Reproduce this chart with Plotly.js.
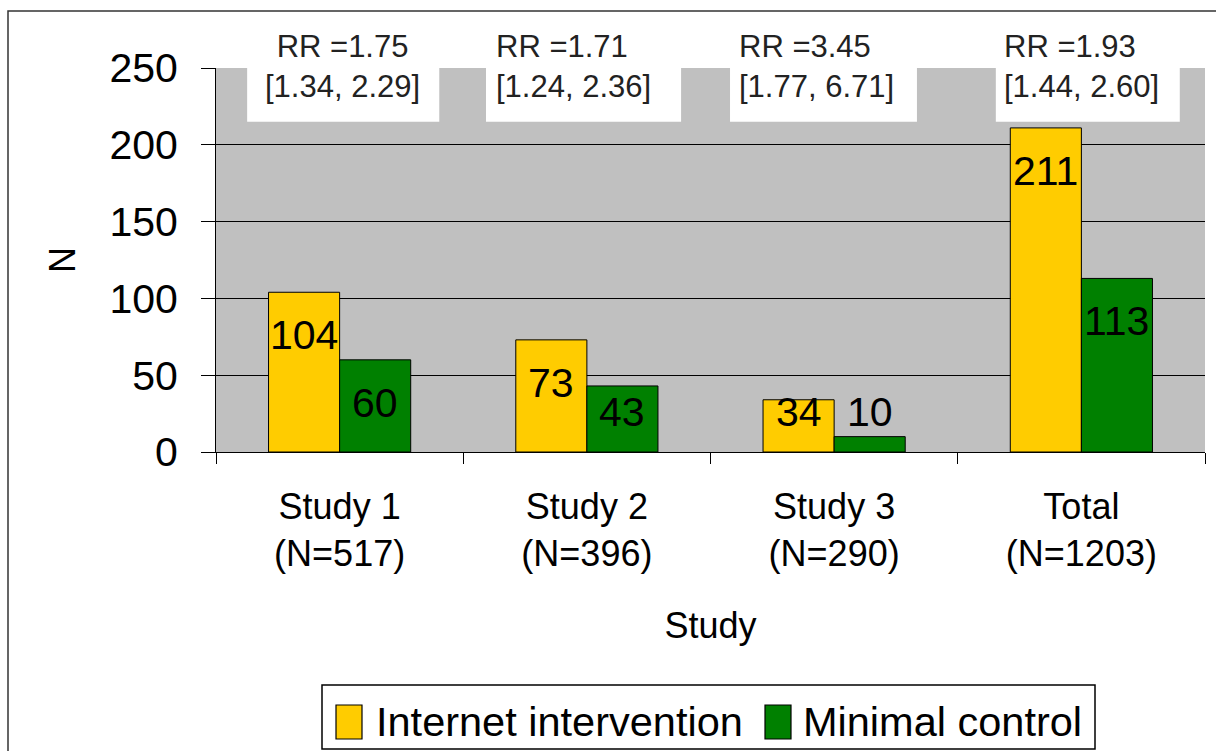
<!DOCTYPE html>
<html>
<head>
<meta charset="utf-8">
<script src="https://cdn.plot.ly/plotly-3.0.1.min.js"></script>
<style>html,body{margin:0;padding:0;background:#fff;}#chart{width:1216px;height:751px;}</style>
</head>
<body>
<div id="chart"></div>
<script>
// ---- data ----
const categories = ["Study 1<br>(N=517)", "Study 2<br>(N=396)", "Study 3<br>(N=290)", "Total<br>(N=1203)"];
const internetValues = [104, 73, 34, 211];
const controlValues = [60, 43, 10, 113];
const rrLabels = ["RR =1.75<br>[1.34, 2.29]", "RR =1.71<br>[1.24, 2.36]", "RR =3.45<br>[1.77, 6.71]", "RR =1.93<br>[1.44, 2.60]"];
const seriesNames = ["Internet intervention", "Minimal control"];
const yTicks = [0, 50, 100, 150, 200, 250];

// ---- style ----
const FONT = "Liberation Sans, Arial, sans-serif";
const YELLOW = "#FFCC00", GREEN = "#008000", GREY = "#C0C0C0";
const colors = [YELLOW, GREEN];
const W = 1216, H = 751;
const M = {l: 216, r: 11, t: 68, b: 299, pad: 0};
const pw = W - M.l - M.r, ph = H - M.t - M.b;
const px2x = function (px) { return (px - M.l) / pw; };
const py2y = function (py) { return (M.t + ph - py) / ph; };
const bargap = 0.425;
const barOff = (1 - bargap) / 4;   // center offset of each bar inside group

const traces = [internetValues, controlValues].map(function (vals, s) {
  return {type: "bar", name: seriesNames[s], x: categories, y: vals, showlegend: false,
    marker: {color: colors[s], line: {color: "#000", width: 1}}, hoverinfo: "none"};
});

const annotations = [];
const shapes = [];
// value labels
[internetValues, controlValues].forEach(function (vals, s) {
  vals.forEach(function (v, i) {
    annotations.push({
      xref: "x", yref: "y", x: i + (s === 0 ? -barOff : barOff), y: Math.max(v - 28, 26),
      text: String(v), showarrow: false, xanchor: "center", yanchor: "middle",
      font: {family: FONT, size: 41, color: "#000"}
    });
  });
});
// RR labels on white boxes
const rrTextShift = [0.01, -0.055, -0.073, 0.0];
const rrAlign = ["center", "left", "left", "left"];
const boxEdges = [[-0.374, 0.403], [-0.408, 0.381], [-0.421, 0.335], [-0.346, 0.398]];
rrLabels.forEach(function (t, i) {
  shapes.push({type: "rect", xref: "x", yref: "y", x0: i + boxEdges[i][0], x1: i + boxEdges[i][1],
    y0: 215, y1: 250, fillcolor: "#fff", line: {width: 0}, layer: "above"});
  annotations.push({
    xref: "x", yref: "paper", x: i + rrTextShift[i], y: py2y(67),
    text: t, showarrow: false, xanchor: "center", yanchor: "middle", align: rrAlign[i],
    font: {family: FONT, size: 31, color: "#222"}
  });
});
// legend (drawn by hand so that the swatches match the reference size)
shapes.push({type: "rect", xref: "paper", yref: "paper", x0: px2x(322), x1: px2x(1095),
  y0: py2y(749), y1: py2y(685), fillcolor: "#fff", line: {color: "#000", width: 1.5}});
const legendSwatchX = [336, 765];
const legendTextX = [374, 801];
seriesNames.forEach(function (n, s) {
  shapes.push({type: "rect", xref: "paper", yref: "paper", x0: px2x(legendSwatchX[s]), x1: px2x(legendSwatchX[s] + 26),
    y0: py2y(739), y1: py2y(705), fillcolor: colors[s], line: {color: "#000", width: 1.2}});
  annotations.push({xref: "paper", yref: "paper", x: px2x(legendTextX[s]), y: py2y(721),
    text: n, showarrow: false, xanchor: "left", yanchor: "middle",
    font: {family: FONT, size: 41.5, color: "#000"}});
});
// outer frame
shapes.push({type: "rect", xref: "paper", yref: "paper",
  x0: px2x(8), x1: px2x(W + 10), y0: py2y(H + 10), y1: py2y(11),
  fillcolor: "rgba(0,0,0,0)", line: {color: "#333", width: 1.5}, layer: "below"});

const layout = {
  width: W, height: H, margin: M,
  paper_bgcolor: "#fff", plot_bgcolor: GREY,
  font: {family: FONT, color: "#000"},
  barmode: "group", bargap: bargap, bargroupgap: 0,
  showlegend: false,
  xaxis: {type: "category", tickson: "boundaries", ticks: "outside", ticklen: 11, tickcolor: "#000",
    tickwidth: 1, showline: true, linecolor: "#000", linewidth: 1, showgrid: false, zeroline: false,
    tickfont: {family: FONT, size: 36, color: "#000"}, ticklabelstandoff: 23,
    title: {text: "Study", font: {family: FONT, size: 36, color: "#000"}, standoff: 39}, fixedrange: true},
  yaxis: {range: [0, 250], tickvals: yTicks, ticks: "outside", ticklen: 14, tickcolor: "#000", tickwidth: 1,
    showline: true, linecolor: "#000", linewidth: 1, showgrid: true, gridcolor: "#000", gridwidth: 1,
    zeroline: false, tickfont: {family: FONT, size: 41, color: "#000"}, ticklabelstandoff: 15,
    title: {text: "N", font: {family: FONT, size: 36, color: "#000"}, standoff: 22}, fixedrange: true},
  annotations: annotations,
  shapes: shapes
};

Plotly.newPlot("chart", traces, layout, {displayModeBar: false, staticPlot: true});
</script>
</body>
</html>
